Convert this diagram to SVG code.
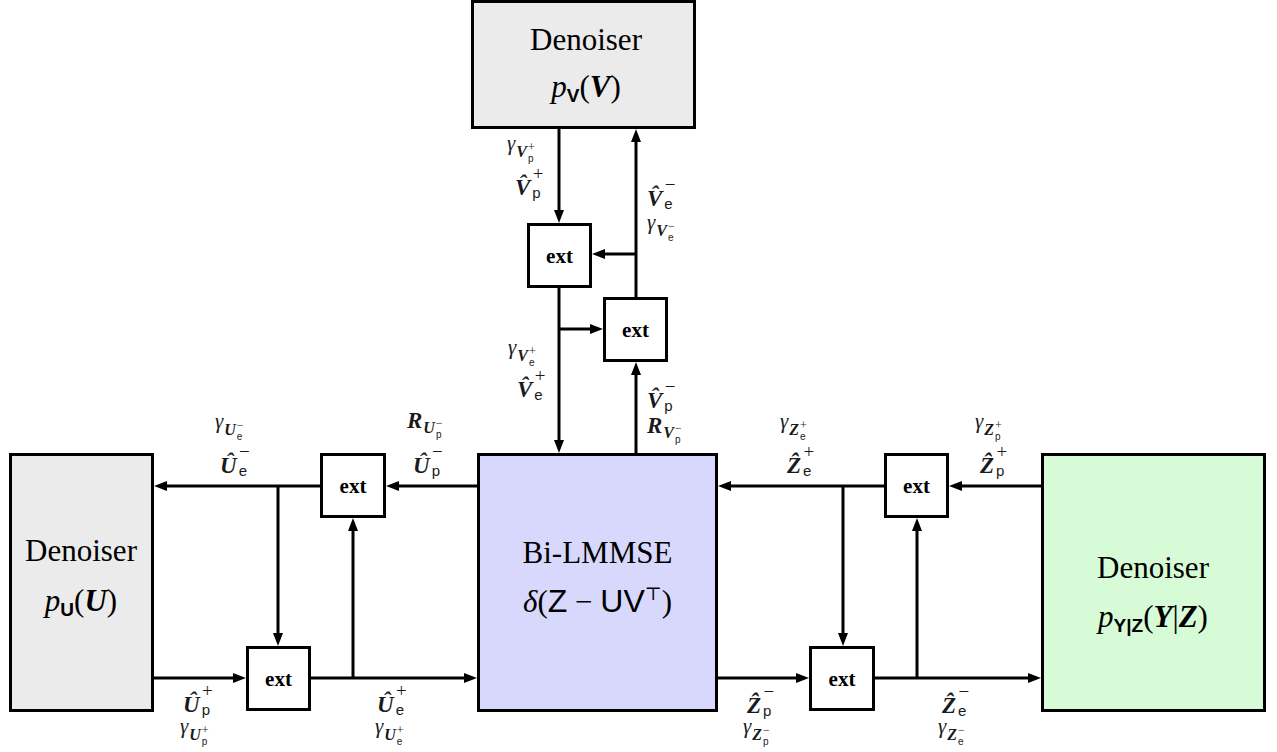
<svg xmlns="http://www.w3.org/2000/svg" width="1277" height="752" viewBox="0 0 1277 752">
<defs>
<marker id="ah" markerUnits="userSpaceOnUse" markerWidth="14" markerHeight="11" refX="5" refY="5" orient="auto">
<path d="M0,0 L13,5 L0,10 z" fill="#000"/>
</marker>
<style>
.box{stroke:#000;stroke-width:3}
.gray{fill:#ebebeb}
.blue{fill:#d8d8fc}
.green{fill:#d6fbd6}
.ext{fill:#fff;stroke:#000;stroke-width:3}
.extt{font-family:'Liberation Serif','DejaVu Serif',serif;font-weight:bold;font-size:21px;text-anchor:middle;fill:#000}
.big{font-family:'Liberation Serif','DejaVu Serif',serif;font-size:31px;fill:#000}
.it{font-style:italic}
.bi{font-style:italic;font-weight:bold}
.sfb{font-family:'Liberation Sans',sans-serif;font-weight:bold}
.sf{font-family:'Liberation Sans',sans-serif}
.c line{stroke:#000;stroke-width:3;marker-end:url(#ah)}
.l{font-family:'Liberation Serif','DejaVu Serif',serif;fill:#1a1a1a}
.hb{font-style:italic;font-weight:bold;font-size:23px}
.sp{font-size:19px}
.sb{font-family:'Liberation Sans',sans-serif;font-size:15px}
.g{font-style:italic;font-size:21px}
.gb{font-style:italic;font-weight:bold;font-size:16px}
.gsp{font-size:12px}
.gsb{font-family:'Liberation Sans',sans-serif;font-size:10px}
</style>
</defs>

<g id="denoiser-v">
<rect class="box gray" x="472.5" y="1.5" width="222" height="126"/>
<text class="big" x="586" y="50" text-anchor="middle">Denoiser</text>
<text class="big" x="586" y="97" text-anchor="middle"><tspan class="it">p</tspan><tspan class="sfb" font-size="19" dy="5">V</tspan><tspan dy="-5">(</tspan><tspan class="bi">V</tspan>)</text>
</g>

<g id="denoiser-u">
<rect class="box gray" x="10.5" y="454.5" width="142" height="256"/>
<text class="big" x="81" y="561" text-anchor="middle">Denoiser</text>
<text class="big" x="81" y="611" text-anchor="middle"><tspan class="it">p</tspan><tspan class="sfb" font-size="19" dy="5">U</tspan><tspan dy="-5">(</tspan><tspan class="bi">U</tspan>)</text>
</g>

<g id="bi-lmmse">
<rect class="box blue" x="478.5" y="454.5" width="238" height="256"/>
<text class="big" x="597.5" y="563" text-anchor="middle">Bi-LMMSE</text>
<text class="big" x="597.5" y="612" text-anchor="middle"><tspan class="it">δ</tspan>(<tspan class="sf" font-size="32">Z</tspan> − <tspan class="sf" font-size="32">UV</tspan><tspan font-size="18" dy="-12">⊤</tspan><tspan dy="12">)</tspan></text>
</g>

<g id="denoiser-yz">
<rect class="box green" x="1042.5" y="454.5" width="222" height="256"/>
<text class="big" x="1153" y="578" text-anchor="middle">Denoiser</text>
<text class="big" x="1153" y="627" text-anchor="middle"><tspan class="it">p</tspan><tspan class="sfb" font-size="19" dy="5">Y|Z</tspan><tspan dy="-5">(</tspan><tspan class="bi">Y</tspan>|<tspan class="bi">Z</tspan>)</text>
</g>

<g id="ext-v1"><rect class="ext" x="528.5" y="224.5" width="62" height="62"/><text class="extt" x="559.5" y="263">ext</text></g>
<g id="ext-v2"><rect class="ext" x="604.5" y="298.5" width="62" height="62"/><text class="extt" x="635.5" y="337">ext</text></g>
<g id="ext-u1"><rect class="ext" x="321.5" y="454.5" width="63" height="62"/><text class="extt" x="353" y="493">ext</text></g>
<g id="ext-u2"><rect class="ext" x="247.5" y="647.5" width="62" height="62"/><text class="extt" x="278.5" y="686">ext</text></g>
<g id="ext-z1"><rect class="ext" x="885.5" y="454.5" width="62" height="62"/><text class="extt" x="916.5" y="493">ext</text></g>
<g id="ext-z2"><rect class="ext" x="810.5" y="647.5" width="63" height="62"/><text class="extt" x="842" y="686">ext</text></g>

<g id="connectors" class="c">
<line x1="559" y1="129" x2="559" y2="215"/>
<line x1="559" y1="287" x2="559" y2="445"/>
<line x1="636" y1="453" x2="636" y2="370"/>
<line x1="636" y1="297" x2="636" y2="137"/>
<line x1="636" y1="254" x2="600" y2="254"/>
<line x1="559" y1="329" x2="595" y2="329"/>
<line x1="477" y1="486" x2="394" y2="486"/>
<line x1="320" y1="486" x2="162" y2="486"/>
<line x1="278" y1="486" x2="278" y2="638"/>
<line x1="154" y1="678" x2="238" y2="678"/>
<line x1="311" y1="678" x2="469" y2="678"/>
<line x1="353" y1="678" x2="353" y2="526"/>
<line x1="1041" y1="486" x2="957" y2="486"/>
<line x1="884" y1="486" x2="726" y2="486"/>
<line x1="843" y1="486" x2="843" y2="638"/>
<line x1="718" y1="678" x2="801" y2="678"/>
<line x1="875" y1="678" x2="1033" y2="678"/>
<line x1="917" y1="678" x2="917" y2="526"/>
</g>

<g id="labels">
<text class="l" x="515" y="195"><tspan class="hb">V̂</tspan><tspan class="sb" dx="2" dy="3">p</tspan><tspan class="sp" dx="-8" dy="-18">+</tspan></text>
<text class="l" x="647" y="206"><tspan class="hb">V̂</tspan><tspan class="sb" dx="2" dy="3">e</tspan><tspan class="sp" dx="-8" dy="-18">−</tspan></text>
<text class="l" x="517" y="397"><tspan class="hb">V̂</tspan><tspan class="sb" dx="2" dy="3">e</tspan><tspan class="sp" dx="-8" dy="-18">+</tspan></text>
<text class="l" x="647" y="408"><tspan class="hb">V̂</tspan><tspan class="sb" dx="2" dy="3">p</tspan><tspan class="sp" dx="-8" dy="-18">−</tspan></text>
<text class="l" x="220" y="473"><tspan class="hb">Û</tspan><tspan class="sb" dx="2" dy="3">e</tspan><tspan class="sp" dx="-8" dy="-18">−</tspan></text>
<text class="l" x="413" y="473"><tspan class="hb">Û</tspan><tspan class="sb" dx="2" dy="3">p</tspan><tspan class="sp" dx="-8" dy="-18">−</tspan></text>
<text class="l" x="787" y="473"><tspan class="hb">Ẑ</tspan><tspan class="sb" dx="2" dy="3">e</tspan><tspan class="sp" dx="-8" dy="-18">+</tspan></text>
<text class="l" x="980" y="473"><tspan class="hb">Ẑ</tspan><tspan class="sb" dx="2" dy="3">p</tspan><tspan class="sp" dx="-8" dy="-18">+</tspan></text>
<text class="l" x="183" y="712"><tspan class="hb">Û</tspan><tspan class="sb" dx="2" dy="3">p</tspan><tspan class="sp" dx="-8" dy="-18">+</tspan></text>
<text class="l" x="377" y="712"><tspan class="hb">Û</tspan><tspan class="sb" dx="2" dy="3">e</tspan><tspan class="sp" dx="-8" dy="-18">+</tspan></text>
<text class="l" x="747" y="713"><tspan class="hb">Ẑ</tspan><tspan class="sb" dx="2" dy="3">p</tspan><tspan class="sp" dx="-8" dy="-18">−</tspan></text>
<text class="l" x="942" y="713"><tspan class="hb">Ẑ</tspan><tspan class="sb" dx="2" dy="3">e</tspan><tspan class="sp" dx="-8" dy="-18">−</tspan></text>

<text class="l" x="507" y="150"><tspan class="g">γ</tspan><tspan class="gb" dx="1" dy="7">V</tspan><tspan class="gsb" dx="1" dy="5">p</tspan><tspan class="gsp" dx="-5.6" dy="-11">+</tspan></text>
<text class="l" x="647" y="229"><tspan class="g">γ</tspan><tspan class="gb" dx="1" dy="7">V</tspan><tspan class="gsb" dx="1" dy="5">e</tspan><tspan class="gsp" dx="-5.6" dy="-11">−</tspan></text>
<text class="l" x="508" y="354"><tspan class="g">γ</tspan><tspan class="gb" dx="1" dy="7">V</tspan><tspan class="gsb" dx="1" dy="5">e</tspan><tspan class="gsp" dx="-5.6" dy="-11">+</tspan></text>
<text class="l" x="215" y="428"><tspan class="g">γ</tspan><tspan class="gb" dx="1" dy="7">U</tspan><tspan class="gsb" dx="1" dy="5">e</tspan><tspan class="gsp" dx="-5.6" dy="-11">−</tspan></text>
<text class="l" x="780" y="428"><tspan class="g">γ</tspan><tspan class="gb" dx="1" dy="7">Z</tspan><tspan class="gsb" dx="1" dy="5">e</tspan><tspan class="gsp" dx="-5.6" dy="-11">+</tspan></text>
<text class="l" x="975" y="428"><tspan class="g">γ</tspan><tspan class="gb" dx="1" dy="7">Z</tspan><tspan class="gsb" dx="1" dy="5">p</tspan><tspan class="gsp" dx="-5.6" dy="-11">+</tspan></text>
<text class="l" x="180" y="733"><tspan class="g">γ</tspan><tspan class="gb" dx="1" dy="7">U</tspan><tspan class="gsb" dx="1" dy="5">p</tspan><tspan class="gsp" dx="-5.6" dy="-11">+</tspan></text>
<text class="l" x="375" y="733"><tspan class="g">γ</tspan><tspan class="gb" dx="1" dy="7">U</tspan><tspan class="gsb" dx="1" dy="5">e</tspan><tspan class="gsp" dx="-5.6" dy="-11">+</tspan></text>
<text class="l" x="743" y="733"><tspan class="g">γ</tspan><tspan class="gb" dx="1" dy="7">Z</tspan><tspan class="gsb" dx="1" dy="5">p</tspan><tspan class="gsp" dx="-5.6" dy="-11">−</tspan></text>
<text class="l" x="938" y="733"><tspan class="g">γ</tspan><tspan class="gb" dx="1" dy="7">Z</tspan><tspan class="gsb" dx="1" dy="5">e</tspan><tspan class="gsp" dx="-5.6" dy="-11">−</tspan></text>

<text class="l" x="407" y="428"><tspan class="hb">R</tspan><tspan class="gb" dx="1" dy="5">U</tspan><tspan class="gsb" dx="1" dy="5">p</tspan><tspan class="gsp" dx="-5.6" dy="-11">−</tspan></text>
<text class="l" x="647" y="433"><tspan class="hb">R</tspan><tspan class="gb" dx="1" dy="5">V</tspan><tspan class="gsb" dx="1" dy="5">p</tspan><tspan class="gsp" dx="-5.6" dy="-11">−</tspan></text>
</g>
</svg>
